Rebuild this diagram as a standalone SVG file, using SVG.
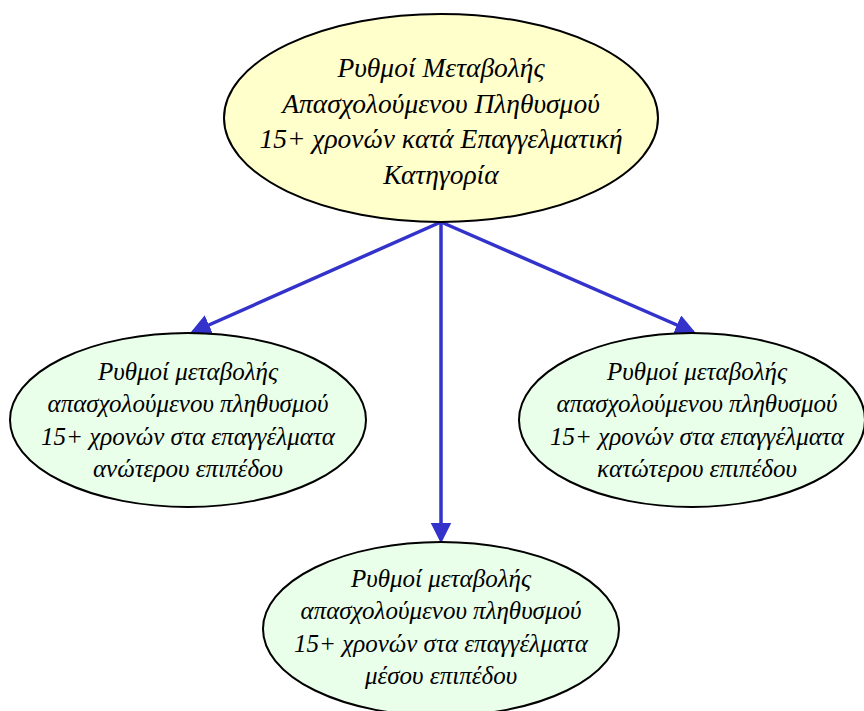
<svg xmlns="http://www.w3.org/2000/svg" width="864" height="711" viewBox="0 0 864 711">
<defs>
<marker id="ah" markerWidth="6" markerHeight="6" refX="5" refY="3" orient="auto" markerUnits="strokeWidth">
<path d="M0,0 L6,3 L0,6 z" fill="#3333cc"/>
</marker>
<style>
.node ellipse{stroke:#000;stroke-width:2}
.top ellipse{fill:#ffffcc}
.sub ellipse{fill:#eaffea}
text{font-family:"Liberation Serif","DejaVu Serif",serif;font-style:italic;fill:#000;text-anchor:middle}
.top text{font-size:27.5px}
.sub text{font-size:25px}
.conn line{stroke:#3333cc;stroke-width:3.5;fill:none;marker-end:url(#ah)}
</style>
</defs>
<rect width="864" height="711" fill="#fff"/>
<g id="connectors" class="conn">
<line x1="441" y1="222" x2="193" y2="332"/>
<line x1="441" y1="222" x2="693" y2="332"/>
<line x1="441" y1="222" x2="441" y2="540"/>
</g>
<g id="n-top" class="node top">
<ellipse cx="441" cy="118" rx="217" ry="104"/>
<text x="441" y="77">Ρυθμοί Μεταβολής</text>
<text x="441" y="113">Απασχολούμενου Πληθυσμού</text>
<text x="441" y="148">15+ χρονών κατά Επαγγελματική</text>
<text x="441" y="184">Κατηγορία</text>
</g>
<g id="n-left" class="node sub">
<ellipse cx="188" cy="420" rx="178" ry="87"/>
<text x="188" y="380">Ρυθμοί μεταβολής</text>
<text x="188" y="412">απασχολούμενου πληθυσμού</text>
<text x="188" y="445">15+ χρονών στα επαγγέλματα</text>
<text x="188" y="477">ανώτερου επιπέδου</text>
</g>
<g id="n-right" class="node sub">
<ellipse cx="692" cy="420" rx="173" ry="87"/>
<text x="697" y="380">Ρυθμοί μεταβολής</text>
<text x="697" y="412">απασχολούμενου πληθυσμού</text>
<text x="697" y="445">15+ χρονών στα επαγγέλματα</text>
<text x="697" y="477">κατώτερου επιπέδου</text>
</g>
<g id="n-bottom" class="node sub">
<ellipse cx="441" cy="629" rx="178" ry="87"/>
<text x="441" y="587">Ρυθμοί μεταβολής</text>
<text x="441" y="619">απασχολούμενου πληθυσμού</text>
<text x="441" y="652">15+ χρονών στα επαγγέλματα</text>
<text x="441" y="684">μέσου επιπέδου</text>
</g>
</svg>
